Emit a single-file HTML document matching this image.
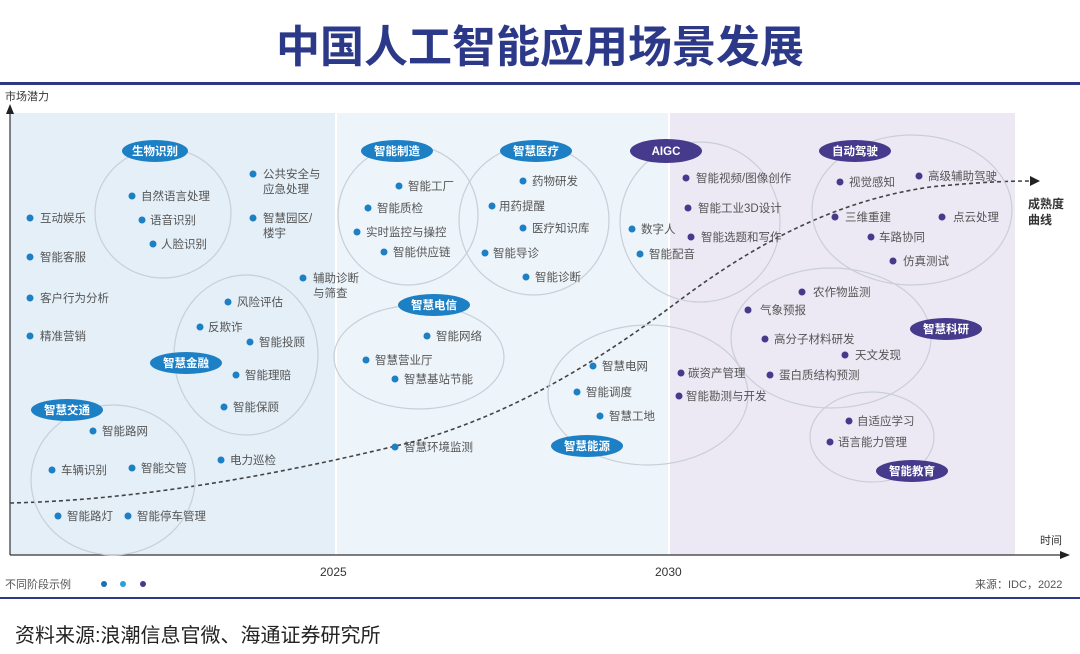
<!DOCTYPE html>
<html><head><meta charset="utf-8"><style>
body{margin:0;background:#fff;width:1080px;height:654px;overflow:hidden}
svg{display:block;font-family:"Liberation Sans","Noto Sans CJK SC",sans-serif}
.t{font-size:11.5px;fill:#555}
.pb{fill:#1d7fc4}.pp{fill:#463a8c}
.pl{font-size:11.5px;fill:#fff;font-weight:bold;text-anchor:middle}
.el{fill:none;stroke:#c9ced8;stroke-width:1.2}
</style></head><body>
<svg width="1080" height="654" viewBox="0 0 1080 654">
<text x="540" y="62" text-anchor="middle" font-size="44" font-weight="bold" fill="#2c3988">中国人工智能应用场景发展</text>
<rect x="0" y="82" width="1080" height="3" fill="#2c3988"/>
<rect x="10" y="113" width="325" height="442" fill="#e4eff8"/>
<rect x="337" y="113" width="331" height="442" fill="#edf4fa"/>
<rect x="670" y="113" width="345" height="442" fill="#ece9f4"/>
<text x="5" y="100" font-size="11" fill="#333">市场潜力</text>
<line x1="10" y1="555" x2="10" y2="112" stroke="#333" stroke-width="1.2"/>
<polygon points="10,104 6,114 14,114" fill="#222"/>
<line x1="10" y1="555" x2="1062" y2="555" stroke="#333" stroke-width="1.2"/>
<polygon points="1070,555 1060,551 1060,559" fill="#222"/>
<text x="1040" y="544" font-size="11" fill="#333">时间</text>
<text x="320" y="576" font-size="12" fill="#333">2025</text>
<text x="655" y="576" font-size="12" fill="#333">2030</text>
<text x="5" y="588" font-size="11" fill="#555">不同阶段示例</text>
<circle cx="104" cy="584" r="3" fill="#1d6fb0"/><circle cx="123" cy="584" r="3" fill="#2aa0d8"/><circle cx="143" cy="584" r="3" fill="#463a8c"/>
<text x="975" y="588" font-size="11" fill="#555">来源：IDC，2022</text>
<rect x="0" y="597" width="1080" height="2" fill="#2c3988"/>
<text x="15" y="642" font-size="20" fill="#222">资料来源:浪潮信息官微、海通证券研究所</text>

<path d="M10,503 C150,500 300,470 420,440 C520,410 600,360 680,300 C760,240 840,200 930,187 C980,182 1010,181 1030,181" fill="none" stroke="#444" stroke-width="1.6" stroke-dasharray="4,3"/>
<polygon points="1040,181 1030,176 1030,186" fill="#222"/>
<text x="1028" y="208" font-size="12" fill="#333" font-weight="bold">成熟度</text>
<text x="1028" y="224" font-size="12" fill="#333" font-weight="bold">曲线</text>

<!-- ellipses -->
<ellipse cx="163" cy="213" rx="68" ry="65" class="el"/>
<ellipse cx="246" cy="355" rx="72" ry="80" class="el"/>
<ellipse cx="113" cy="480" rx="82" ry="75" class="el"/>
<ellipse cx="408" cy="215" rx="70" ry="70" class="el"/>
<ellipse cx="534" cy="220" rx="75" ry="75" class="el"/>
<ellipse cx="419" cy="357" rx="85" ry="52" class="el"/>
<ellipse cx="648" cy="395" rx="100" ry="70" class="el"/>
<ellipse cx="700" cy="222" rx="80" ry="80" class="el"/>
<ellipse cx="912" cy="210" rx="100" ry="75" class="el"/>
<ellipse cx="831" cy="338" rx="100" ry="70" class="el"/>
<ellipse cx="872" cy="437" rx="62" ry="45" class="el"/>

<!-- pills -->
<g>
<ellipse cx="155" cy="151" rx="33" ry="11" class="pb"/><text x="155" y="155" class="pl">生物识别</text>
<ellipse cx="397" cy="151" rx="36" ry="11" class="pb"/><text x="397" y="155" class="pl">智能制造</text>
<ellipse cx="536" cy="151" rx="36" ry="11" class="pb"/><text x="536" y="155" class="pl">智慧医疗</text>
<ellipse cx="666" cy="151" rx="36" ry="12" class="pp"/><text x="666" y="155" class="pl">AIGC</text>
<ellipse cx="855" cy="151" rx="36" ry="11" class="pp"/><text x="855" y="155" class="pl">自动驾驶</text>
<ellipse cx="434" cy="305" rx="36" ry="11" class="pb"/><text x="434" y="309" class="pl">智慧电信</text>
<ellipse cx="186" cy="363" rx="36" ry="11" class="pb"/><text x="186" y="367" class="pl">智慧金融</text>
<ellipse cx="67" cy="410" rx="36" ry="11" class="pb"/><text x="67" y="414" class="pl">智慧交通</text>
<ellipse cx="587" cy="446" rx="36" ry="11" class="pb"/><text x="587" y="450" class="pl">智慧能源</text>
<ellipse cx="946" cy="329" rx="36" ry="11" class="pp"/><text x="946" y="333" class="pl">智慧科研</text>
<ellipse cx="912" cy="471" rx="36" ry="11" class="pp"/><text x="912" y="475" class="pl">智能教育</text>
</g>

<!-- blue items -->
<g class="pb">
<circle cx="30" cy="218" r="3.5"/><circle cx="30" cy="257" r="3.5"/><circle cx="30" cy="298" r="3.5"/><circle cx="30" cy="336" r="3.5"/>
<circle cx="132" cy="196" r="3.5"/><circle cx="142" cy="220" r="3.5"/><circle cx="153" cy="244" r="3.5"/>
<circle cx="253" cy="174" r="3.5"/><circle cx="253" cy="218" r="3.5"/><circle cx="303" cy="278" r="3.5"/>
<circle cx="228" cy="302" r="3.5"/><circle cx="200" cy="327" r="3.5"/><circle cx="250" cy="342" r="3.5"/><circle cx="236" cy="375" r="3.5"/><circle cx="224" cy="407" r="3.5"/><circle cx="221" cy="460" r="3.5"/>
<circle cx="93" cy="431" r="3.5"/><circle cx="52" cy="470" r="3.5"/><circle cx="132" cy="468" r="3.5"/><circle cx="58" cy="516" r="3.5"/><circle cx="128" cy="516" r="3.5"/>
<circle cx="399" cy="186" r="3.5"/><circle cx="368" cy="208" r="3.5"/><circle cx="357" cy="232" r="3.5"/><circle cx="384" cy="252" r="3.5"/>
<circle cx="523" cy="181" r="3.5"/><circle cx="492" cy="206" r="3.5"/><circle cx="523" cy="228" r="3.5"/><circle cx="485" cy="253" r="3.5"/><circle cx="526" cy="277" r="3.5"/>
<circle cx="427" cy="336" r="3.5"/><circle cx="366" cy="360" r="3.5"/><circle cx="395" cy="379" r="3.5"/><circle cx="395" cy="447" r="3.5"/>
<circle cx="632" cy="229" r="3.5"/><circle cx="640" cy="254" r="3.5"/>
<circle cx="593" cy="366" r="3.5"/><circle cx="577" cy="392" r="3.5"/><circle cx="600" cy="416" r="3.5"/>
</g>
<g class="t">
<text x="40" y="222">互动娱乐</text><text x="40" y="261">智能客服</text><text x="40" y="302">客户行为分析</text><text x="40" y="340">精准营销</text>
<text x="141" y="200">自然语言处理</text><text x="150" y="224">语音识别</text><text x="161" y="248">人脸识别</text>
<text x="263" y="178">公共安全与</text><text x="263" y="193">应急处理</text><text x="263" y="222">智慧园区/</text><text x="263" y="237">楼宇</text>
<text x="313" y="282">辅助诊断</text><text x="313" y="297">与筛查</text>
<text x="237" y="306">风险评估</text><text x="208" y="331">反欺诈</text><text x="259" y="346">智能投顾</text><text x="245" y="379">智能理赔</text><text x="233" y="411">智能保顾</text><text x="230" y="464">电力巡检</text>
<text x="102" y="435">智能路网</text><text x="61" y="474">车辆识别</text><text x="141" y="472">智能交管</text><text x="67" y="520">智能路灯</text><text x="137" y="520">智能停车管理</text>
<text x="408" y="190">智能工厂</text><text x="377" y="212">智能质检</text><text x="366" y="236">实时监控与操控</text><text x="393" y="256">智能供应链</text>
<text x="532" y="185">药物研发</text><text x="499" y="210">用药提醒</text><text x="532" y="232">医疗知识库</text><text x="493" y="257">智能导诊</text><text x="535" y="281">智能诊断</text>
<text x="436" y="340">智能网络</text><text x="375" y="364">智慧营业厅</text><text x="404" y="383">智慧基站节能</text><text x="404" y="451">智慧环境监测</text>
<text x="641" y="233">数字人</text><text x="649" y="258">智能配音</text>
<text x="602" y="370">智慧电网</text><text x="586" y="396">智能调度</text><text x="609" y="420">智慧工地</text>
</g>
<g class="pp">
<circle cx="686" cy="178" r="3.5"/><circle cx="688" cy="208" r="3.5"/><circle cx="691" cy="237" r="3.5"/>
<circle cx="681" cy="373" r="3.5"/><circle cx="679" cy="396" r="3.5"/>
<circle cx="840" cy="182" r="3.5"/><circle cx="919" cy="176" r="3.5"/><circle cx="835" cy="217" r="3.5"/><circle cx="942" cy="217" r="3.5"/><circle cx="871" cy="237" r="3.5"/><circle cx="893" cy="261" r="3.5"/>
<circle cx="802" cy="292" r="3.5"/><circle cx="748" cy="310" r="3.5"/><circle cx="765" cy="339" r="3.5"/><circle cx="845" cy="355" r="3.5"/><circle cx="770" cy="375" r="3.5"/>
<circle cx="849" cy="421" r="3.5"/><circle cx="830" cy="442" r="3.5"/>
</g>
<g class="t">
<text x="696" y="182">智能视频/图像创作</text><text x="698" y="212">智能工业3D设计</text><text x="701" y="241">智能选题和写作</text>
<text x="688" y="377">碳资产管理</text><text x="686" y="400">智能勘测与开发</text>
<text x="849" y="186">视觉感知</text><text x="928" y="180">高级辅助驾驶</text><text x="845" y="221">三维重建</text><text x="953" y="221">点云处理</text><text x="879" y="241">车路协同</text><text x="903" y="265">仿真测试</text>
<text x="813" y="296">农作物监测</text><text x="760" y="314">气象预报</text><text x="774" y="343">高分子材料研发</text><text x="855" y="359">天文发现</text><text x="779" y="379">蛋白质结构预测</text>
<text x="857" y="425">自适应学习</text><text x="838" y="446">语言能力管理</text>
</g>
</svg>
</body></html>
